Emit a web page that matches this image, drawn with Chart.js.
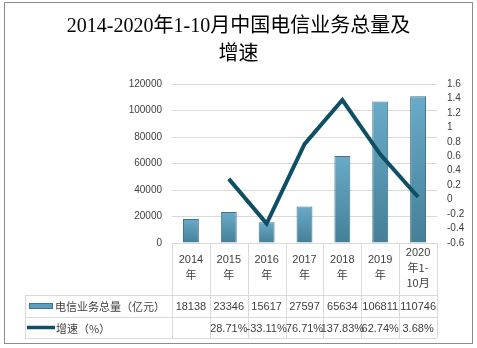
<!DOCTYPE html>
<html>
<head>
<meta charset="utf-8">
<script src="https://cdn.jsdelivr.net/npm/chart.js@4"></script>
<style>
  html, body { margin: 0; padding: 0; background: #fff; }
  #wrap { width: 477px; height: 348px; position: relative; }
</style>
</head>
<body>
<div id="wrap"><canvas id="chart"></canvas></div>
<script>
// data
var years = [['2014', '年'], ['2015', '年'], ['2016', '年'], ['2017', '年'], ['2018', '年'], ['2019', '年'], ['2020', '年1-', '10月']];
var volume = [18138, 23346, 15617, 27597, 65634, 106811, 110746];
var growth = [null, 0.2871, -0.3311, 0.7671, 1.3783, 0.6274, 0.0368];
var growthText = ['', '28.71%', '-33.11%', '76.71%', '137.83%', '62.74%', '3.68%'];
var seriesNames = ['电信业务总量（亿元）', '增速（%）'];

var cjkFont = '11px "Noto Sans CJK SC", "Liberation Sans", sans-serif';
var textColor = '#404040';
var gridColor = '#d9d9d9';

function barFill(context) {
  var chart = context.chart;
  if (!chart.chartArea || context.raw == null) return '#5b9fbd';
  var y = chart.scales.y;
  var top = y.getPixelForValue(context.raw);
  var bottom = y.getPixelForValue(0);
  var g = chart.ctx.createLinearGradient(0, top, 0, bottom);
  g.addColorStop(0, '#69abc8');
  g.addColorStop(1, '#457f98');
  return g;
}

// data table under the plot, lined up with the category scale
var tablePlugin = {
  id: 'table',
  afterDraw: function (chart) {
    var ctx = chart.ctx;
    var x = chart.scales.x;
    var area = chart.chartArea;
    var n = years.length;
    var step = (area.right - area.left) / n;
    var top = area.bottom;
    var headBottom = top + 52;
    var row1 = headBottom + 22;
    var row2 = row1 + 21;
    var legLeft = 25;

    ctx.save();
    ctx.strokeStyle = gridColor;
    ctx.lineWidth = 1;
    ctx.beginPath();
    for (var i = 0; i <= n; i++) {
      var bx = Math.round(area.left + i * step) + 0.5;
      ctx.moveTo(bx, top);
      ctx.lineTo(bx, row2);
    }
    ctx.moveTo(legLeft + 0.5, headBottom);
    ctx.lineTo(legLeft + 0.5, row2);
    [headBottom, row1, row2].forEach(function (hy) {
      ctx.moveTo(legLeft, Math.round(hy) + 0.5);
      ctx.lineTo(area.right, Math.round(hy) + 0.5);
    });
    ctx.stroke();

    ctx.fillStyle = textColor;
    ctx.textAlign = 'center';
    ctx.textBaseline = 'middle';
    for (var j = 0; j < n; j++) {
      var cx = x.getPixelForValue(j);
      var lines = years[j];
      var startY = lines.length === 3 ? top + 10 : top + 17;
      for (var k = 0; k < lines.length; k++) {
        ctx.font = /^\d+$/.test(lines[k]) ? '11px "Liberation Sans", sans-serif' : cjkFont;
        ctx.fillText(lines[k], cx, startY + k * 15);
      }
      ctx.font = '11px "Liberation Sans", sans-serif';
      ctx.fillText(String(volume[j]), cx, (headBottom + row1) / 2 + 1);
      ctx.fillText(growthText[j], cx, (row1 + row2) / 2 + 1, step + 6);
    }

    // legend keys
    ctx.fillStyle = '#5b9fbd';
    ctx.fillRect(29, (headBottom + row1) / 2 - 3, 24, 6);
    ctx.strokeStyle = '#41748b';
    ctx.strokeRect(29.5, (headBottom + row1) / 2 - 2.5, 23, 5);
    ctx.strokeStyle = '#0e4f66';
    ctx.lineWidth = 3.5;
    ctx.beginPath();
    ctx.moveTo(27, (row1 + row2) / 2);
    ctx.lineTo(55, (row1 + row2) / 2);
    ctx.stroke();

    ctx.fillStyle = textColor;
    ctx.textAlign = 'left';
    ctx.font = cjkFont;
    ctx.fillText(seriesNames[0], 55, (headBottom + row1) / 2 + 1);
    ctx.fillText(seriesNames[1], 56, (row1 + row2) / 2 + 1);

    // outer frame
    ctx.strokeStyle = '#8c8c8c';
    ctx.lineWidth = 1;
    ctx.strokeRect(4.5, 2.5, 468, 341);
    ctx.restore();
  }
};

new Chart(document.getElementById('chart'), {
  data: {
    labels: years.map(function (y) { return y.join(''); }),
    datasets: [
      {
        type: 'line',
        label: seriesNames[1],
        data: growth,
        yAxisID: 'y1',
        borderColor: '#0e4f66',
        borderWidth: 4,
        pointRadius: 0,
        tension: 0,
        order: 0
      },
      {
        type: 'bar',
        label: seriesNames[0],
        data: volume,
        yAxisID: 'y',
        backgroundColor: barFill,
        borderColor: '#41748b',
        borderWidth: 1,
        barPercentage: 0.42,
        categoryPercentage: 1,
        order: 1
      }
    ]
  },
  options: {
    responsive: true,
    maintainAspectRatio: false,
    animation: false,
    layout: { padding: { left: 0, right: 0, top: 0, bottom: 105 } },
    plugins: {
      legend: { display: false },
      tooltip: { enabled: false },
      title: {
        display: true,
        text: ['2014-2020年1-10月中国电信业务总量及', '增速'],
        color: '#000',
        font: { family: '"Liberation Serif", "Noto Sans CJK SC", serif', size: 20, weight: 'normal', lineHeight: 1.4 },
        padding: { top: 13, bottom: 15 }
      }
    },
    scales: {
      x: {
        display: false,
        grid: { display: false }
      },
      y: {
        position: 'left',
        min: 0,
        max: 120000,
        ticks: {
          stepSize: 20000,
          autoSkip: false,
          color: textColor,
          font: { family: '"Liberation Sans", sans-serif', size: 10 },
          padding: 10,
          callback: function (v) { return String(v); }
        },
        grid: { color: gridColor, drawTicks: false },
        border: { display: false },
        afterFit: function (scale) { scale.width = 172; }
      },
      y1: {
        position: 'right',
        min: -0.6,
        max: 1.6,
        ticks: {
          stepSize: 0.2,
          autoSkip: false,
          color: textColor,
          font: { family: '"Liberation Sans", sans-serif', size: 10 },
          padding: 10,
          callback: function (v) { return String(Math.round(v * 10) / 10); }
        },
        grid: { display: false, drawTicks: false },
        border: { display: false },
        afterFit: function (scale) { scale.width = 40; }
      }
    }
  },
  plugins: [tablePlugin]
});
</script>
</body>
</html>
